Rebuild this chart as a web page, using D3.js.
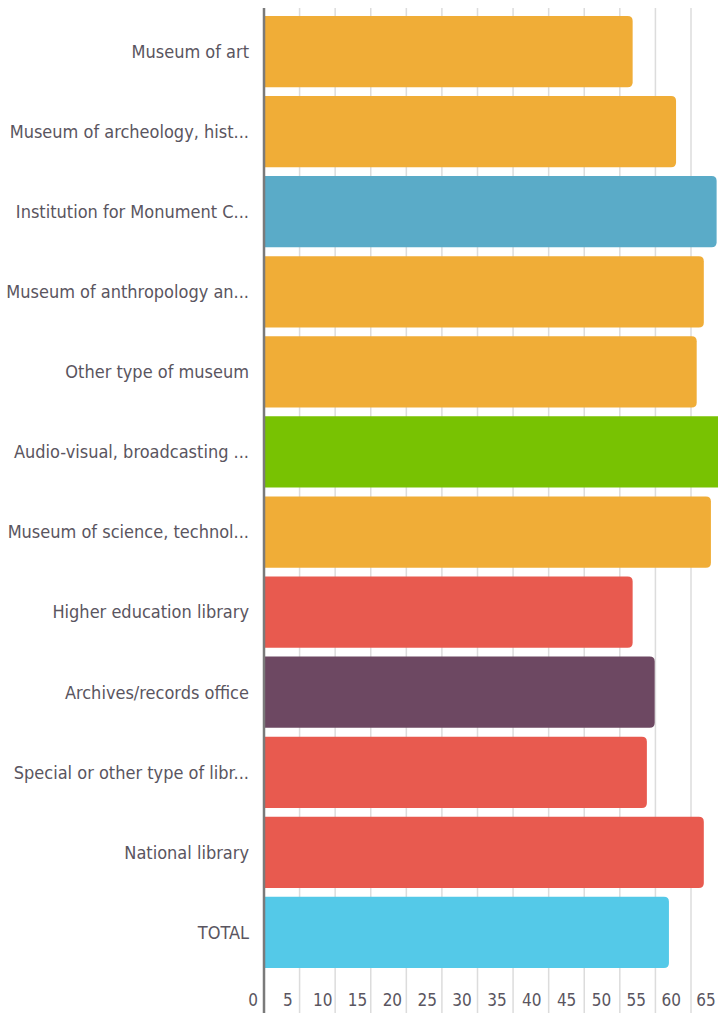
<!DOCTYPE html>
<html>
<head>
<meta charset="utf-8">
<script src="https://cdn.jsdelivr.net/npm/d3@7"></script>
<style>
  body { margin: 0; background: #fff; }
  svg { display: block; }
  text { font-family: "DejaVu Sans Condensed", "Liberation Sans Narrow", sans-serif; fill: #5a5560; }
</style>
</head>
<body>
<svg id="chart"></svg>
<script>
// categories, values and bar colours
var categories = [
  "Museum of art",
  "Museum of archeology, hist...",
  "Institution for Monument C...",
  "Museum of anthropology an...",
  "Other type of museum",
  "Audio-visual, broadcasting ...",
  "Museum of science, technol...",
  "Higher education library",
  "Archives/records office",
  "Special or other type of libr...",
  "National library",
  "TOTAL"
];
var values = [51.8, 57.9, 63.6, 61.8, 60.8, 66, 62.8, 51.8, 54.9, 53.8, 61.8, 56.9];
var colors = ["#f0ad37", "#f0ad37", "#5aabc8", "#f0ad37", "#f0ad37", "#78c202",
              "#f0ad37", "#e85a4f", "#6d4862", "#e85a4f", "#e85a4f", "#54c9e8"];
var ticks = [0, 5, 10, 15, 20, 25, 30, 35, 40, 45, 50, 55, 60, 65];

var W = 718, H = 1013;
var margin = {top: 8, left: 264};

var svg = d3.select("#chart").attr("width", W).attr("height", H);

var x = d3.scaleLinear().domain([0, 60]).range([margin.left, 691]);
// tick labels run on a slightly tighter spacing than the grid in the original
var xLabel = d3.scaleLinear().domain([0, 65]).range([253, 706]);
var y = d3.scaleBand()
  .domain(categories)
  .range([11.5, 972.5])
  .paddingInner(0.11)
  .paddingOuter(0.055);

// vertical grid lines
svg.append("g")
  .selectAll("line")
  .data(ticks.slice(1))
  .enter().append("line")
    .attr("x1", function(d) { return x(d); })
    .attr("x2", function(d) { return x(d); })
    .attr("y1", margin.top)
    .attr("y2", H)
    .attr("stroke", "#dcdcdc")
    .attr("stroke-width", 1.5);

// bars, rounded on the right end only
function barPath(d, i) {
  var x0 = x(0), x1 = x(d), y0 = y(categories[i]), h = y.bandwidth(), r = 5;
  return "M" + x0 + "," + y0 +
    "H" + (x1 - r) + "Q" + x1 + "," + y0 + " " + x1 + "," + (y0 + r) +
    "V" + (y0 + h - r) + "Q" + x1 + "," + (y0 + h) + " " + (x1 - r) + "," + (y0 + h) +
    "H" + x0 + "Z";
}

svg.append("g")
  .selectAll("path")
  .data(values)
  .enter().append("path")
    .attr("d", barPath)
    .attr("fill", function(d, i) { return colors[i]; });

// category labels
svg.append("g")
  .selectAll("text")
  .data(categories)
  .enter().append("text")
    .attr("x", 249)
    .attr("y", function(d) { return y(d) + y.bandwidth() / 2; })
    .attr("dy", "0.35em")
    .attr("text-anchor", "end")
    .style("font-size", "18px")
    .text(function(d) { return d; });

// tick labels
svg.append("g")
  .selectAll("text")
  .data(ticks)
  .enter().append("text")
    .attr("x", function(d) { return xLabel(d); })
    .attr("y", 1000)
    .attr("dy", "0.35em")
    .attr("text-anchor", "middle")
    .style("font-size", "17px")
    .text(function(d) { return d; });

// left axis line
svg.append("line")
  .attr("x1", x(0)).attr("x2", x(0))
  .attr("y1", margin.top).attr("y2", H)
  .attr("stroke", "#7a7a7a")
  .attr("stroke-width", 2.5);
</script>
</body>
</html>
